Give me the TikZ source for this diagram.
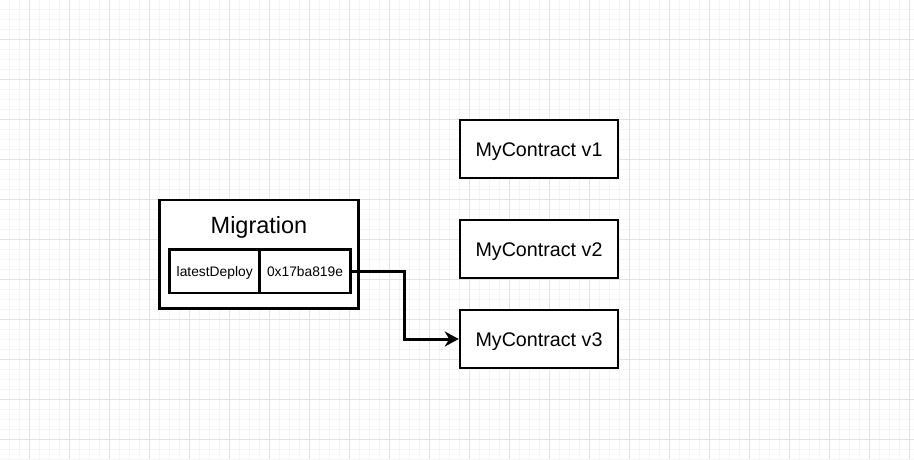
\documentclass[tikz,border=0pt]{standalone}
\usepackage{fontspec}
\setmainfont{Liberation Sans}
\usetikzlibrary{arrows.meta}
\definecolor{gridmajor}{HTML}{E2E2E2}
\definecolor{gridminor}{HTML}{F4F4F4}
\tikzset{
  box/.style={draw=black, line width=2.5pt, fill=white, inner sep=0pt},
  bigbox/.style={box, minimum width=158pt, minimum height=58pt, font=\fontsize{19.7pt}{22pt}\selectfont, text height=14.1pt, text depth=0pt},
  cell/.style={box, minimum width=90.6pt, minimum height=43.3pt, font=\fontsize{13.8pt}{16pt}\selectfont, text height=9.9pt, text depth=0pt},
  titletext/.style={inner sep=0pt, font=\fontsize{23.5pt}{26pt}\selectfont, text height=16.8pt, text depth=0pt},
  link/.style={line width=3pt, -{Stealth[length=14pt, width=15pt, inset=4.5pt]}},
}
\begin{document}
\begin{tikzpicture}[x=1pt, y=-1pt]
\useasboundingbox (0,0) rectangle (914,459);
\fill[white] (0,0) rectangle (914,459);
% minor grid
\foreach \x in {9,19,...,909} \draw[gridminor, line width=1pt] (\x,0) -- (\x,459);
\foreach \y in {9,19,...,459} \draw[gridminor, line width=1pt] (0,\y) -- (914,\y);
% major grid
\foreach \x in {29,69,...,909} \draw[gridmajor, line width=1pt] (\x,0) -- (\x,459);
\foreach \y in {39,79,...,459} \draw[gridmajor, line width=1pt] (0,\y) -- (914,\y);

% Migration
\node[box, minimum width=198.6pt, minimum height=108.5pt] (mig) at (259,254) {};
\node[titletext] (migtitle) at (259,225) {Migration};
\node[cell] (c1) at (214.7,271.3) {latestDeploy};
\node[cell] (c2) at (305,271.3) {0x17ba819e};

% contracts
\node[bigbox] (v1) at (539,149) {MyContract v1};
\node[bigbox] (v2) at (539,249) {MyContract v2};
\node[bigbox] (v3) at (539,339) {MyContract v3};

\coordinate (bend) at (404.8,0);
\draw[link] (c2.east) -- (c2.east -| bend) |- (v3.west);
\end{tikzpicture}
\end{document}
